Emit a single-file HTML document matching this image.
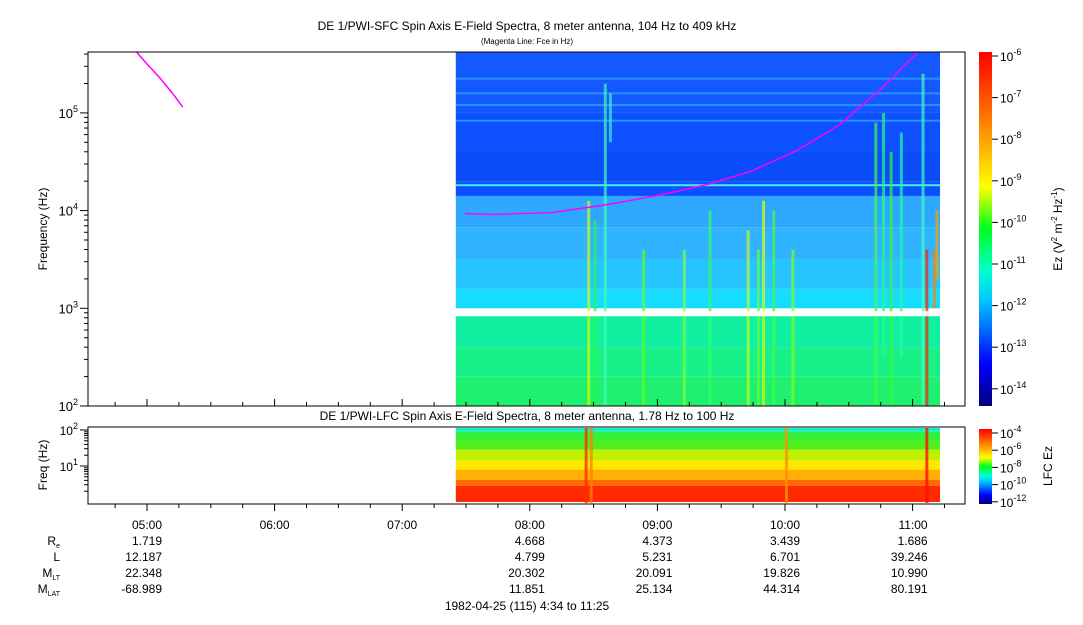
<!DOCTYPE html>
<html><head><meta charset="utf-8"><style>
body{margin:0;background:#fff;width:1083px;height:620px;overflow:hidden;font-family:"Liberation Sans",sans-serif}
svg text{font-family:"Liberation Sans",sans-serif;fill:#000}
</style></head><body>
<svg id="c" width="1083" height="620" xmlns="http://www.w3.org/2000/svg">
<defs>
<linearGradient id="jet" x1="0" y1="1" x2="0" y2="0">
<stop offset="0" stop-color="#00007f"/><stop offset="0.12" stop-color="#0000ff"/><stop offset="0.3" stop-color="#00c8ff"/><stop offset="0.38" stop-color="#00ffd0"/><stop offset="0.5" stop-color="#00ff20"/><stop offset="0.62" stop-color="#ffff00"/><stop offset="0.8" stop-color="#ff8000"/><stop offset="1" stop-color="#ff0000"/>
</linearGradient>
<clipPath id="mainclip"><rect x="89" y="52" width="876" height="354"/></clipPath>
</defs>
<text x="527" y="30" font-size="12" text-anchor="middle">DE 1/PWI-SFC  Spin Axis E-Field Spectra, 8 meter antenna, 104 Hz to 409 kHz</text>
<text x="527" y="44" font-size="8" text-anchor="middle">(Magenta Line: Fce in Hz)</text>
<g id="main" clip-path="url(#mainclip)"></g>
<rect x="88" y="52" width="877" height="354" fill="none" stroke="#000"/>
<text x="527" y="420" font-size="12" text-anchor="middle">DE 1/PWI-LFC  Spin Axis E-Field Spectra, 8 meter antenna, 1.78 Hz to 100 Hz</text>
<g id="low"></g>
<rect x="88" y="427" width="877" height="77" fill="none" stroke="#000"/>
<g id="axes"></g>
<text transform="translate(47,229) rotate(-90)" font-size="12" text-anchor="middle">Frequency (Hz)</text>
<text transform="translate(47,465) rotate(-90)" font-size="12" text-anchor="middle">Freq (Hz)</text>
<rect x="979" y="52" width="13" height="354" fill="url(#jet)"/>
<rect x="979" y="429" width="13" height="75" fill="url(#jet)"/>
<text transform="translate(1062,229) rotate(-90)" font-size="12" text-anchor="middle">Ez (V<tspan dy="-5" font-size="8">2</tspan><tspan dy="5"> m</tspan><tspan dy="-5" font-size="8">-2</tspan><tspan dy="5"> Hz</tspan><tspan dy="-5" font-size="8">-1</tspan><tspan dy="5">)</tspan></text>
<text transform="translate(1052,466) rotate(-90)" font-size="12" text-anchor="middle">LFC Ez</text>
<g font-size="12">
<text x="60" y="545" text-anchor="end">R<tspan font-size="7" dy="3">e</tspan></text>
<text x="60" y="561" text-anchor="end">L</text>
<text x="60" y="577" text-anchor="end">M<tspan font-size="7" dy="3">LT</tspan></text>
<text x="60" y="593" text-anchor="end">M<tspan font-size="7" dy="3">LAT</tspan></text>
</g>
<text x="527" y="610" font-size="12" text-anchor="middle">1982-04-25 (115) 4:34 to 11:25</text>
</svg>
<script>
const NS='http://www.w3.org/2000/svg';
const timeTicks=['05:00','06:00','07:00','08:00','09:00','10:00','11:00'];
const tickHours=[5,6,7,8,9,10,11];
const ephRe=['1.719','','','4.668','4.373','3.439','1.686'];
const ephL=['12.187','','','4.799','5.231','6.701','39.246'];
const ephMLT=['22.348','','','20.302','20.091','19.826','10.990'];
const ephMLAT=['-68.989','','','11.851','25.134','44.314','80.191'];
const sfcDecades=[2,3,4,5];
const cbLabels=[-6,-7,-8,-9,-10,-11,-12,-13,-14];
const lfcLabels=[-4,-6,-8,-10,-12];
const dataStart=7.42, dataEnd=11.215;
const sfcBandLo=[2.0,2.3,2.6,3.0,3.2,3.5,3.83,4.15,4.3,4.6,5.0];
const sfcBandHi=[2.3,2.6,2.95,3.2,3.5,3.83,4.15,4.3,4.6,5.0,5.62];
const sfcBandCol=['#20f070','#18f088','#10f0a0','#18dcff','#28c4ff','#30b4ff','#2ea8ff','#0a50ff','#0a4cfa','#0c50ff','#1458ff'];
const hLines=[4.92,5.08,5.2,5.35];
const streakH=[8.45,8.5,8.58,8.62,8.88,9.2,9.4,9.7,9.78,9.82,9.9,10.05,10.7,10.76,10.82,10.9,11.07,11.1,11.16,11.18];
const streakLo=[2.0,2.0,2.0,4.7,2.0,2.0,2.0,2.0,2.0,2.0,2.0,2.0,2.0,2.5,2.0,2.5,2.0,2.0,3.0,3.3];
const streakHi=[4.1,3.9,5.3,5.2,3.6,3.6,4.0,3.8,3.6,4.1,4.0,3.6,4.9,5.0,4.6,4.8,5.4,3.6,3.6,4.0];
const streakC=['#d0ff00','#20ff40','#40ffb0','#40f0d0','#60ff20','#80ff40','#30ff60','#c0ff20','#60ff40','#e0ff00','#40ff40','#80ff20','#40ff40','#20ff80','#30ff30','#20ffa0','#40ffc0','#ff2000','#ff8000','#ffa000'];
const fceH1=[4.92,5.0,5.1,5.2,5.28];
const fceV1=[5.62,5.5,5.36,5.2,5.06];
const fceH2=[7.49,7.7,8.18,8.6,9.02,9.4,9.73,10.1,10.43,10.74,11.04];
const fceV2=[3.97,3.96,3.98,4.06,4.16,4.27,4.40,4.62,4.88,5.23,5.62];
const lfcLo=[1.95,1.75,1.45,1.15,0.9,0.62,0.45,0.0];
const lfcHi=[2.1,1.95,1.75,1.45,1.15,0.9,0.62,0.45];
const lfcCol=['#10f0c0','#30f040','#50f020','#c0f000','#ffe800','#ffb000','#ff6a00','#ff2a00'];
const lfcStreakH=[8.43,8.47,10.0,11.1];
const lfcStreakC=['#ff3000','#ff8000','#ff9000','#ff1000'];

const X=t=>147+(t-5)*127.6;
const Y=lf=>406-(lf-2)*97.7;
const YL=lf=>466-(lf-1)*36;
function el(tag,attrs,parent){const e=document.createElementNS(NS,tag);for(const k in attrs)e.setAttribute(k,attrs[k]);parent.appendChild(e);return e;}
const main=document.getElementById('main'),low=document.getElementById('low'),axes=document.getElementById('axes');
const x0=X(dataStart),x1=X(dataEnd);
for(let i=0;i<sfcBandLo.length;i++){
 const r=el('rect',{x:x0,y:Y(sfcBandHi[i]),width:x1-x0,height:Y(sfcBandLo[i])-Y(sfcBandHi[i]),fill:sfcBandCol[i]},main);
 
 
}
for(const h of hLines){
 const r=el('rect',{x:x0,y:Y(h)-1,width:x1-x0,height:2,fill:'#2a90ff'},main);
 
 
}
el('rect',{x:x0,y:Y(4.26)-1,width:x1-x0,height:2,fill:'#40f0e0'},main);
for(let i=0;i<streakH.length;i++){
 const r=el('rect',{x:X(streakH[i]),y:Y(streakHi[i]),width:3,height:Y(streakLo[i])-Y(streakHi[i]),fill:streakC[i],opacity:0.7},main);
 
 
}
el('rect',{x:x0,y:Y(2.97),width:x1-x0,height:5,fill:'#fff'},main);
function poly(hs,vs,parent,name){
 const p=el('polyline',{points:hs.map((h,i)=>X(h)+','+Y(vs[i])).join(' '),fill:'none',stroke:'#ff00ff','stroke-width':1.5},parent);
 
 
}
poly(fceH1,fceV1,main,'fce-line-early');
poly(fceH2,fceV2,main,'fce-line');
for(let i=0;i<lfcLo.length;i++){
 const yt=Math.max(428,YL(lfcHi[i])),yb=Math.min(503,YL(lfcLo[i]));
 const r=el('rect',{x:x0,y:yt,width:x1-x0,height:Math.max(0,yb-yt),fill:lfcCol[i]},low);
 
 
}
for(let i=0;i<lfcStreakH.length;i++){
 const r=el('rect',{x:X(lfcStreakH[i]),y:428,width:3,height:75,fill:lfcStreakC[i],opacity:0.8},low);
 
 
}
for(let h=4.75;h<=11.3;h+=0.25){
 const x=X(h),major=Math.abs(h-Math.round(h))<1e-6,len=major?7:4;
 el('line',{x1:x,y1:504,x2:x,y2:504+len,stroke:'#000'},axes);
 el('line',{x1:x,y1:406,x2:x,y2:406-len,stroke:'#000'},axes);
}
const rows=[ephRe,ephL,ephMLT,ephMLAT];
tickHours.forEach((h,i)=>{
 const t=el('text',{x:X(h)+15,y:529,'font-size':12,'text-anchor':'end'},axes);t.textContent=timeTicks[i];
 
 
 rows.forEach((r,j)=>{if(!r[i])return;const e=el('text',{x:X(h)+15,y:545+16*j,'font-size':12,'text-anchor':'end'},axes);e.textContent=r[i];
 
 });
});
for(const d of sfcDecades){
 const y=Y(d);el('line',{x1:88,y1:y,x2:80,y2:y,stroke:'#000'},axes);
 const t=el('text',{x:78,y:y+5,'font-size':13,'text-anchor':'end'},axes);
 t.innerHTML='10<tspan dy="-6" font-size="9">'+d+'</tspan>';
 
 
 for(let k=2;k<10;k++){const ym=Y(d+Math.log10(k));if(ym<52)break;el('line',{x1:88,y1:ym,x2:84,y2:ym,stroke:'#000'},axes);}
}
[1,2].forEach(d=>{const y=YL(d);el('line',{x1:88,y1:y,x2:80,y2:y,stroke:'#000'},axes);
 const t=el('text',{x:78,y:y+5,'font-size':12,'text-anchor':'end'},axes);t.innerHTML='10<tspan dy="-6" font-size="9">'+d+'</tspan>';
 
 });
[0.3,0.48,0.6,0.7,0.78,0.85,0.9,0.95,1.3,1.48,1.6,1.7,1.78,1.85,1.9,1.95].forEach(v=>{const y=YL(v);if(y<503&&y>427)el('line',{x1:88,y1:y,x2:84,y2:y,stroke:'#000'},axes);});
cbLabels.forEach((p,i)=>{const yy=56+i*41.6;
 el('line',{x1:992,y1:yy,x2:998,y2:yy,stroke:'#000'},axes);
 const t=el('text',{x:1000,y:yy+5,'font-size':12},axes);t.innerHTML='10<tspan dy="-6" font-size="9">'+p+'</tspan>';
 
 });
lfcLabels.forEach((p,i)=>{const yy=433+i*17.2;
 el('line',{x1:992,y1:yy,x2:998,y2:yy,stroke:'#000'},axes);
 const t=el('text',{x:1000,y:yy+5,'font-size':12},axes);t.innerHTML='10<tspan dy="-6" font-size="9">'+p+'</tspan>';
 
 });
</script>
</body></html>
